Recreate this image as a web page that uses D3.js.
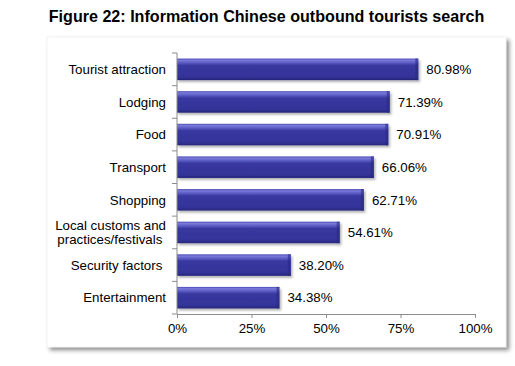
<!DOCTYPE html>
<html><head><meta charset="utf-8">
<script src="https://cdn.jsdelivr.net/npm/d3@7"></script>
<style>
html,body{margin:0;padding:0;background:#fff;}
svg{display:block;font-family:"Liberation Sans",Arial,sans-serif;}
</style></head>
<body>
<svg id="c" width="515" height="366"></svg>
<script>
const title = "Figure 22: Information Chinese outbound tourists search";
const categories = ["Tourist attraction","Lodging","Food","Transport","Shopping","Local customs and\npractices/festivals ","Security factors ","Entertainment"];
const values = [80.98,71.39,70.91,66.06,62.71,54.61,38.20,34.38];
const valueLabels = ["80.98%","71.39%","70.91%","66.06%","62.71%","54.61%","38.20%","34.38%"];
const xTicks = [0,25,50,75,100];

const svg = d3.select("#c");
const defs = svg.append("defs");
const f = defs.append("filter").attr("id","boxsh").attr("x","-5%").attr("y","-5%").attr("width","115%").attr("height","115%");
f.append("feDropShadow").attr("dx",3).attr("dy",3).attr("stdDeviation",2).attr("flood-color","#000").attr("flood-opacity",0.45);
const bf = defs.append("filter").attr("id","barsh").attr("x","-5%").attr("y","-20%").attr("width","115%").attr("height","160%");
bf.append("feDropShadow").attr("dx",1.5).attr("dy",2).attr("stdDeviation",1).attr("flood-color","#000").attr("flood-opacity",0.3);
const g = defs.append("linearGradient").attr("id","bg").attr("x1",0).attr("y1",0).attr("x2",0).attr("y2",1);
[[0,"#4a4ab8"],[0.08,"#7a7ad8"],[0.2,"#5a5ac4"],[0.32,"#38389f"],[0.85,"#333399"],[1,"#26267a"]].forEach(s=>g.append("stop").attr("offset",s[0]).attr("stop-color",s[1]));

svg.append("text").attr("x",266.5).attr("y",22).attr("text-anchor","middle")
  .attr("font-weight","bold").attr("font-size",16.1).attr("fill","#000").text(title);

svg.append("rect").attr("x",47).attr("y",37).attr("width",459).attr("height",310)
  .attr("fill","#fff").attr("stroke","#e6e6e6").attr("stroke-width",0.5).attr("filter","url(#boxsh)");

const x = d3.scaleLinear().domain([0,100]).range([177,475]);
const y = d3.scaleBand().domain(categories).range([53,314]).paddingInner(0.34).paddingOuter(0.17);

// bars
const bars = svg.append("g");
categories.forEach((c,i)=>{
  const yy = y(c), h = y.bandwidth(), w = x(values[i]) - x(0);
  const gg = bars.append("g").attr("filter","url(#barsh)");
  gg.append("rect").attr("x",x(0)).attr("y",yy).attr("width",w).attr("height",h).attr("fill","url(#bg)");
  gg.append("rect").attr("x",x(values[i])-3).attr("y",yy).attr("width",3).attr("height",h).attr("fill","#2a2a85").attr("opacity",0.6);
});

// axes
const axCol = "#8c8c8c";
const yg = svg.append("g");
yg.append("line").attr("x1",x(0)).attr("x2",x(0)).attr("y1",53).attr("y2",314).attr("stroke",axCol);
d3.range(categories.length+1).forEach(i=>{
  const yy = 53 + i*(261/categories.length);
  yg.append("line").attr("x1",x(0)-5).attr("x2",x(0)).attr("y1",yy).attr("y2",yy).attr("stroke",axCol);
});
const xg = svg.append("g").attr("transform","translate(0,314)")
  .call(d3.axisBottom(x).tickValues(xTicks).tickFormat(d=>d+"%").tickSize(4).tickPadding(6));
xg.select(".domain").attr("stroke",axCol);
xg.selectAll(".tick line").attr("stroke",axCol);
xg.selectAll(".tick text").attr("font-size",13.3).attr("fill","#000").attr("font-family","Liberation Sans, Arial, sans-serif");

// category labels
categories.forEach((c,i)=>{
  const lines = c.split("\n");
  const cy = y(c) + y.bandwidth()/2;
  const t = svg.append("text").attr("text-anchor","end").attr("font-size",13.3).attr("fill","#000")
    .style("white-space","pre");
  lines.forEach((l,j)=>{
    t.append("tspan").attr("x",166).attr("y", cy + (j - (lines.length-1)/2)*14.5 + 4.7).text(l);
  });
});

// value labels
values.forEach((v,i)=>{
  svg.append("text").attr("x",x(v)+8).attr("y",y(categories[i])+y.bandwidth()/2+4.7)
    .attr("font-size",13.3).attr("fill","#000").text(valueLabels[i]);
});
</script>
</body></html>
